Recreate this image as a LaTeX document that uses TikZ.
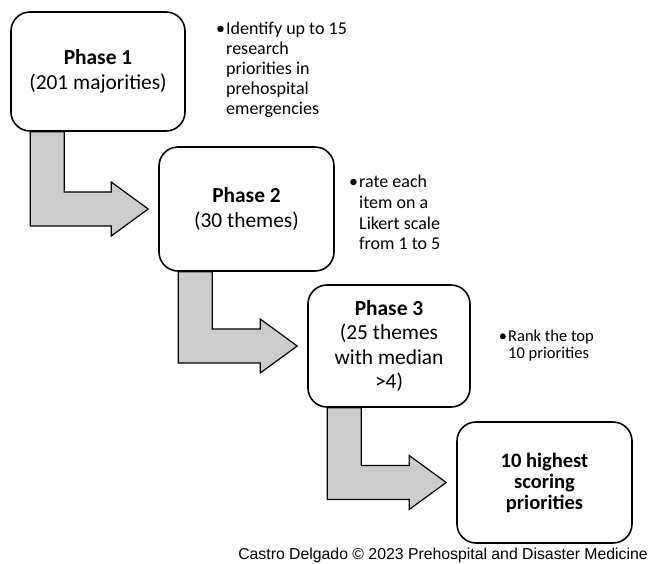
\documentclass[tikz,border=0pt]{standalone}
\usepackage{fontspec}
\setmainfont{Carlito}
\newfontfamily\capfont{Liberation Sans}
\usetikzlibrary{calc}
\pgfdeclarelayer{bg}
\pgfsetlayers{bg,main}
\tikzset{
  phasebox/.style={draw=black, line width=1.6pt, fill=white, rounded corners=19pt,
    align=center, inner sep=0pt, font=\fontsize{21.4}{24.5}\selectfont},
  blockarrow/.style={draw=black, line width=1.2pt, fill=black!20, line join=miter},
  notetext/.style={anchor=north west, inner sep=0pt, align=left, text=black}
}
\newcommand\blockarr[2]{%
  \draw[blockarrow] let \p1=(#1.south west), \p2=(#2.west) in
    (\x1+20pt,\y1) -- (\x1+20pt,\y2-17pt) -- (\x2-47pt,\y2-17pt) -- (\x2-47pt,\y2-27pt)
    -- (\x2-10pt,\y2) -- (\x2-47pt,\y2+27pt) -- (\x2-47pt,\y2+17pt)
    -- (\x1+54pt,\y2+17pt) -- (\x1+54pt,\y1) -- cycle;}
\begin{document}
\begin{tikzpicture}[x=1pt,y=1pt]
\useasboundingbox (0,0) rectangle (651,-563);
% boxes
\node[phasebox, minimum width=174pt, minimum height=119pt] (b1) at (98,-71.5)
  {{\bfseries Phase 1}\\(201 majorities)};
\node[phasebox, minimum width=175pt, minimum height=124pt] (b2) at (246.5,-209)
  {{\bfseries Phase 2}\\(30 themes)};
\node[phasebox, minimum width=162pt, minimum height=122pt] (b3) at (389,-346)
  {{\bfseries Phase 3}\\(25 themes\\with median\\>4)};
\node[phasebox, minimum width=175pt, minimum height=121pt, font=\fontsize{20.5}{21}\selectfont\bfseries] (b4) at (544.5,-482.5)
  {10 highest\\scoring\\priorities};
% block arrows
\begin{pgfonlayer}{bg}
\blockarr{b1}{b2}
\blockarr{b2}{b3}
\blockarr{b3}{b4}
\end{pgfonlayer}
% notes
\node[notetext, font=\fontsize{18}{20}\selectfont] (n1) at (226,-22)
  {\llap{•\hspace{1pt}}Identify up to 15\\research\\priorities in\\prehospital\\emergencies};
\node[notetext, font=\fontsize{18}{20.7}\selectfont] (n2) at (359,-175)
  {\llap{•\hspace{1pt}}rate each\\item on a\\Likert scale\\from 1 to 5};
\node[notetext, font=\fontsize{16.5}{17}\selectfont] (n3) at (508,-330)
  {\llap{•\hspace{1pt}}Rank the top\\10 priorities};
% caption
\node[anchor=east, inner sep=0pt, font=\capfont\fontsize{15.8}{18}\selectfont] (cap) at (648,-555)
  {Castro Delgado © 2023 Prehospital and Disaster Medicine};
\end{tikzpicture}
\end{document}
